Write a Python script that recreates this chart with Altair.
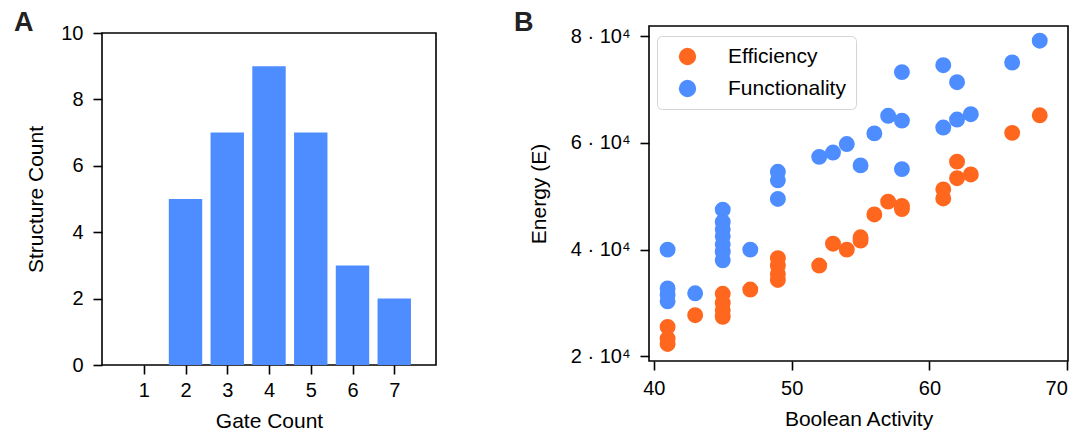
import altair as alt
import pandas as pd

# ---- Panel A data ----
gate_count = [1, 2, 3, 4, 5, 6, 7]
structure_count = [0, 5, 7, 9, 7, 3, 2]

# ---- Panel B data ----
func_x = [41, 41, 41, 41, 43, 45, 45, 45, 45, 45, 45, 45, 47, 49, 49, 49,
          52, 53, 54, 55, 56, 57, 58, 58, 58, 61, 61, 62, 62, 63, 66, 68]
func_y = [40000, 32700, 31500, 30300, 31800, 47500, 45200, 43800, 42500, 41000, 39600, 38000,
          40000, 54600, 53000, 49500, 57400, 58200, 59800, 55800, 61800, 65100, 73300, 64200,
          55100, 74600, 62900, 71400, 64400, 65400, 75100, 79200]
eff_x = [41, 41, 41, 43, 45, 45, 45, 45, 47, 49, 49, 49, 49, 52, 53, 54, 55, 55,
         56, 57, 58, 58, 61, 61, 62, 62, 63, 66, 68]
eff_y = [25500, 23300, 22300, 27700, 31700, 30000, 28600, 27400, 32500, 38400, 37000, 35400,
         34300, 37000, 41100, 40000, 42300, 41700, 46600, 49000, 48200, 47600, 51300, 49600,
         56500, 53400, 54100, 61900, 65200]

series_names = ["Efficiency", "Functionality"]
series_colors = ["#ff671f", "#4d8dff"]
bar_color = "#4d8dff"

FONT = "Liberation Sans"

df_a = pd.DataFrame({"gate": gate_count, "count": structure_count})
df_b = pd.concat([
    pd.DataFrame({"activity": eff_x, "energy": eff_y, "series": series_names[0]}),
    pd.DataFrame({"activity": func_x, "energy": func_y, "series": series_names[1]}),
], ignore_index=True)
label_df = pd.DataFrame({"k": [0]})

axis_common = dict(
    domain=False, ticks=True, tickColor="black", tickWidth=1.6, tickSize=9,
    labelFontSize=20, titleFontSize=21, labelColor="black", titleColor="black",
    labelFont=FONT, titleFont=FONT, titleFontWeight="normal", grid=False,
)

bars = alt.Chart(df_a).transform_calculate(
    x0="datum.gate - 0.4", x1="datum.gate + 0.4"
).mark_bar(color=bar_color).encode(
    x=alt.X("x0:Q", scale=alt.Scale(domain=[0, 8], nice=False, zero=False),
            axis=alt.Axis(values=gate_count, format="d", title="Gate Count",
                          labelPadding=6, titlePadding=10, **axis_common)),
    x2="x1:Q",
    y=alt.Y("count:Q", scale=alt.Scale(domain=[0, 10], nice=False),
            axis=alt.Axis(values=[0, 2, 4, 6, 8, 10], title="Structure Count",
                          labelPadding=10, titlePadding=14, **axis_common)),
    y2=alt.datum(0),
)
label_a = alt.Chart(label_df).mark_text(
    text="A", fontSize=27, fontWeight="bold", font=FONT, align="left", baseline="alphabetic", color="#222"
).encode(x=alt.value(-88), y=alt.value(-2))

left = alt.layer(bars, label_a).properties(width=334, height=332)

# small invisible spacer that lowers panel A by a few pixels relative to panel B
spacer = alt.Chart(label_df).mark_text(text=" ", opacity=0).encode(
    x=alt.value(0), y=alt.value(0)
).properties(width=334, height=1, view=alt.ViewBackground(stroke="transparent"))

left_col = alt.vconcat(spacer, left, spacing=6, bounds="flush")

points = alt.Chart(df_b).mark_circle(size=254, opacity=1).encode(
    x=alt.X("activity:Q", scale=alt.Scale(domain=[39.65, 70.05], nice=False, zero=False),
            axis=alt.Axis(values=[40, 50, 60, 70], title="Boolean Activity",
                          labelPadding=8, titlePadding=10, **axis_common)),
    y=alt.Y("energy:Q", scale=alt.Scale(domain=[19100, 81950], nice=False, zero=False),
            axis=alt.Axis(values=[20000, 40000, 60000, 80000], title="Energy (E)",
                          labelExpr="(datum.value/10000) + ' \u00b7 10\u2074'",
                          labelPadding=10, titlePadding=21, **axis_common)),
    color=alt.Color("series:N", scale=alt.Scale(domain=series_names, range=series_colors),
                    sort=series_names,
                    legend=alt.Legend(title=None, orient="none", legendX=555, legendY=10,
                                      padding=10, symbolOffset=10, labelOffset=30, rowPadding=10,
                                      strokeColor="#d4d4d4", cornerRadius=5,
                                      fillColor="rgba(255,255,255,0.85)",
                                      symbolSize=300, symbolType="circle", symbolStrokeWidth=0,
                                      labelFontSize=21, labelFont=FONT, labelColor="black")),
    order=alt.Order("series:N"),
)
label_b = alt.Chart(label_df).mark_text(
    text="B", fontSize=27, fontWeight="bold", font=FONT, align="left", baseline="alphabetic", color="#222"
).encode(x=alt.value(-135), y=alt.value(5))

right = alt.layer(points, label_b).properties(width=419, height=335)

chart = alt.hconcat(left_col, right, spacing=76).properties(
    padding={"top": 0, "left": 5, "right": 0, "bottom": 5}
).configure(background="white").configure_view(
    stroke="black", strokeWidth=1.6
)

chart.save("out.html", embed_options={"renderer": "svg", "actions": False})
